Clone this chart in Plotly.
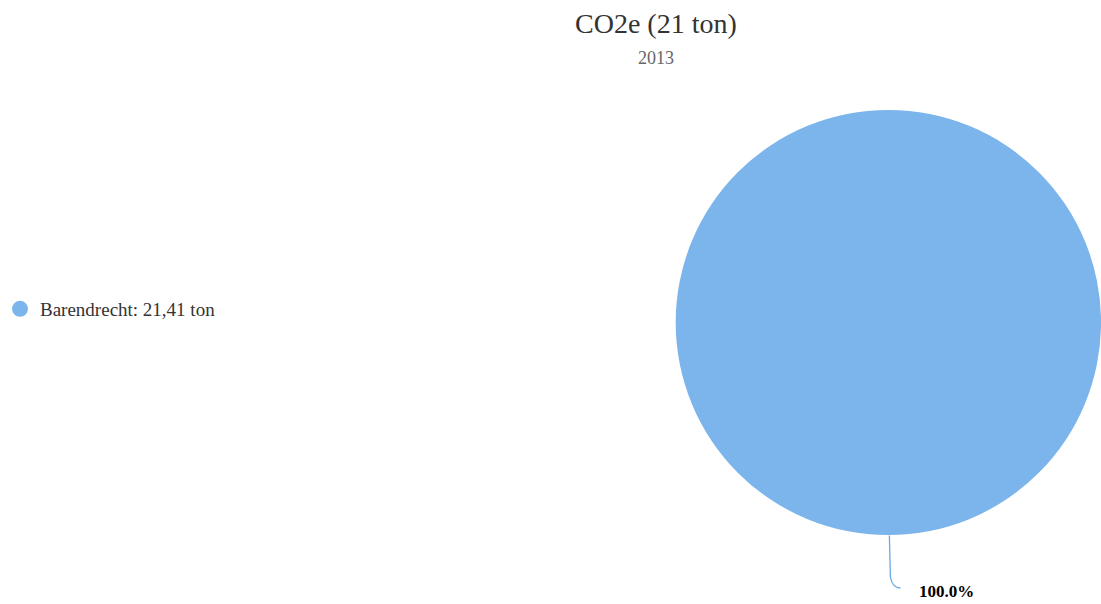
import plotly.graph_objects as go

labels = ["Barendrecht"]
values = [21.41]
legend_texts = ["Barendrecht: 21,41 ton"]
title_text = "CO2e (21 ton)"
subtitle_text = "2013"
colors = ["#7cb5ec"]

W, H = 1101, 604
total = sum(values)
pct_texts = [f"{100 * v / total:.1f}%" for v in values]

# pie geometry (pixels)
cx, cy = 888, 322.5
r = W - cx

def px(x):
    return x / W

def py(y):
    return 1 - y / H

fig = go.Figure()
fig.add_trace(go.Pie(
    labels=labels, values=values,
    marker=dict(colors=colors, line=dict(width=0)),
    textinfo="none", sort=False, showlegend=False,
    domain=dict(x=[px(cx - r), 1], y=[py(cy + r + 20), py(cy - r - 20)]),
    hoverinfo="label+value+percent",
))
# legend entry with circle marker
for lt, c in zip(legend_texts, colors):
    fig.add_trace(go.Scatter(
        x=[None], y=[None], mode="markers", name=lt,
        marker=dict(color=c, size=16, symbol="circle"),
        showlegend=True,
    ))

# connector curve and label for the slice
fig.add_shape(
    type="path", xref="paper", yref="paper",
    path=(f"M {px(cx + 1)} {py(cy + r)} L {px(cx + 2)} {py(577)} "
          f"Q {px(cx + 4)} {py(588)} {px(cx + 12)} {py(588)}"),
    line=dict(color="#6aa8e6", width=1.3),
)
fig.add_annotation(
    xref="paper", yref="paper", x=px(917), y=py(591),
    xanchor="left", yanchor="middle", showarrow=False,
    text=f"<b>{pct_texts[0]}</b>",
    font=dict(family="Liberation Serif", size=17, color="#000000"),
)
fig.add_annotation(
    xref="paper", yref="paper", x=px(655), y=py(23),
    xanchor="center", yanchor="middle", showarrow=False,
    text=title_text,
    font=dict(family="Liberation Serif", size=28, color="#333333"),
)
fig.add_annotation(
    xref="paper", yref="paper", x=px(655), y=py(58),
    xanchor="center", yanchor="middle", showarrow=False,
    text=subtitle_text,
    font=dict(family="Liberation Serif", size=18, color="#666666"),
)

fig.update_layout(
    width=W, height=H,
    margin=dict(l=0, r=0, t=0, b=0),
    paper_bgcolor="white", plot_bgcolor="white",
    xaxis=dict(visible=False), yaxis=dict(visible=False),
    legend=dict(x=-2 / W, y=py(309), xanchor="left", yanchor="middle",
                font=dict(family="Liberation Serif", size=19, color="#333333"),
                bgcolor="rgba(0,0,0,0)"),
    font=dict(family="Liberation Serif"),
)
fig.write_html("out.html",
               config={"displayModeBar": False},
               post_script="document.body.style.margin='0';document.body.style.overflow='hidden';")
